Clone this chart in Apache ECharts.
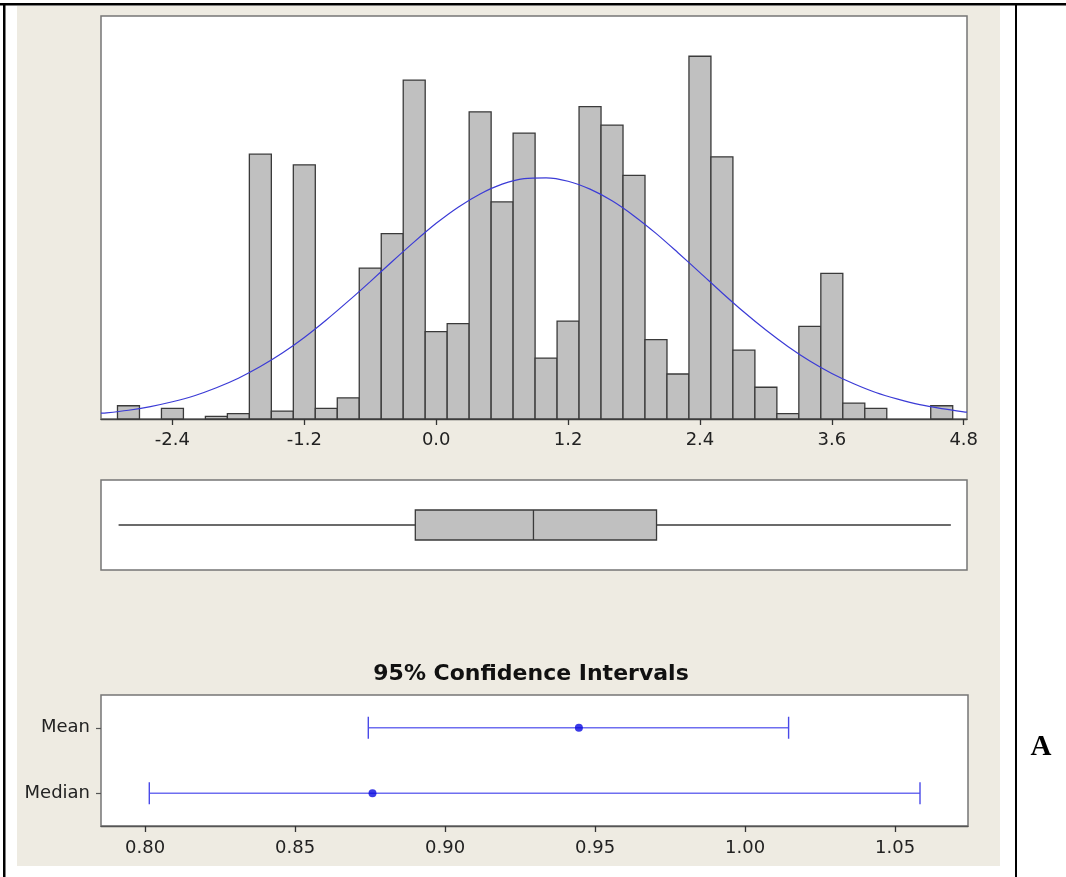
<!DOCTYPE html>
<html>
<head>
<meta charset="utf-8">
<script src="https://cdn.jsdelivr.net/npm/echarts@6/dist/echarts.min.js"></script>
<style>
html,body{margin:0;padding:0;background:#fff;}
#chart{width:1066px;height:877px;}
</style>
</head>
<body>
<div id="chart"></div>
<script>
// ---- Data ----
const binCenters = [-2.8,-2.6,-2.4,-2.2,-2.0,-1.8,-1.6,-1.4,-1.2,-1.0,-0.8,-0.6,-0.4,-0.2,0.0,0.2,0.4,0.6,0.8,1.0,1.2,1.4,1.6,1.8,2.0,2.2,2.4,2.6,2.8,3.0,3.2,3.4,3.6,3.8,4.0,4.2,4.4,4.6];
const binCounts  = [5,0,4,0,1,2,100,3,96,4,8,57,70,128,33,36,116,82,108,23,37,118,111,92,30,17,137,99,26,12,2,35,55,6,4,0,0,5];
const binWidth = 0.2;

// fitted normal curve
const curveX = [-3.05,-3.0,-2.8,-2.6,-2.4,-2.2,-2.0,-1.8,-1.6,-1.4,-1.2,-1.0,-0.8,-0.6,-0.4,-0.2,0.0,0.2,0.4,0.6,0.8,1.0,1.2,1.4,1.6,1.8,2.0,2.2,2.4,2.6,2.8,3.0,3.2,3.4,3.6,3.8,4.0,4.2,4.4,4.6,4.8,4.83];
const curveY = [2.2,2.3,3.3,4.7,6.5,8.8,11.8,15.4,19.8,24.9,30.8,37.4,44.5,51.9,59.5,66.9,73.9,80.0,85.0,88.7,90.8,91.1,89.8,86.8,82.4,76.7,70.1,62.8,55.3,47.7,40.4,33.6,27.4,21.9,17.2,13.3,10.0,7.5,5.4,3.9,2.7,2.6];

const histTicks = [-2.4,-1.2,0.0,1.2,2.4,3.6,4.8];

// boxplot: min, Q1, median, Q3, max
const boxStats = [-2.89,-0.19,0.885,2.005,4.683];

// 95% confidence intervals
const ciLabels = ['Median','Mean'];
const ciLow    = [0.8014,0.8744];
const ciEst    = [0.8758,0.9446];
const ciHigh   = [1.0583,1.0145];
const ciTicks  = [0.80,0.85,0.90,0.95,1.00,1.05];

// ---- Chart ----
const chart = echarts.init(document.getElementById('chart'), null, {renderer:'canvas'});
const FONT = 'DejaVu Sans';
const panelBorder = '#767676';

const histData = binCenters.map((c,i)=>[c, binCounts[i]]);
const curveData = curveX.map((x,i)=>[x, curveY[i]]);
const ciData = ciLabels.map((l,i)=>[i, ciLow[i], ciHigh[i]]);
const ciPts = ciLabels.map((l,i)=>[ciEst[i], i]);

const option = {
  animation:false,
  backgroundColor:'#ffffff',
  graphic:[
    {type:'rect', z:-10, shape:{x:17,y:6,width:983,height:860}, style:{fill:'#eeebe2'}},
    {type:'rect', z:100, shape:{x:0,y:3,width:1066,height:2.5}, style:{fill:'#000'}},
    {type:'rect', z:100, shape:{x:3,y:3,width:2.5,height:874}, style:{fill:'#000'}},
    {type:'rect', z:100, shape:{x:1015,y:3,width:2,height:874}, style:{fill:'#000'}},
    {type:'text', z:100, x:531, y:674, style:{text:'95% Confidence Intervals', font:'bold 22px "DejaVu Sans"', fill:'#111', textAlign:'center', textVerticalAlign:'middle'}},
    {type:'text', z:100, x:1041, y:748, style:{text:'A', font:'bold 29px "Liberation Serif"', fill:'#000', textAlign:'center', textVerticalAlign:'middle'}}
  ],
  grid:[
    {left:101, top:16, width:866, height:403, show:true, backgroundColor:'#fff', borderColor:panelBorder, borderWidth:1.5},
    {left:101, top:480, width:866, height:90, show:true, backgroundColor:'#fff', borderColor:panelBorder, borderWidth:1.5},
    {left:101, top:695, width:867, height:131, show:true, backgroundColor:'#fff', borderColor:panelBorder, borderWidth:1.5}
  ],
  xAxis:[
    {gridIndex:0, type:'value', min:-3.05, max:4.83, splitLine:{show:false},
     axisLine:{show:true, onZero:false, lineStyle:{color:'#444', width:1.3}},
     axisTick:{show:true, length:6, customValues:histTicks, lineStyle:{color:'#333', width:1.3}},
     axisLabel:{customValues:histTicks, margin:12, formatter:v=>v.toFixed(1), fontFamily:FONT, fontSize:18, color:'#222'}},
    {gridIndex:1, type:'value', min:-3.05, max:4.83, show:false},
    {gridIndex:2, type:'value', min:0.7853, max:1.0743, splitLine:{show:false},
     axisLine:{show:true, onZero:false, lineStyle:{color:'#555', width:1.3}},
     axisTick:{show:true, length:6, customValues:ciTicks, lineStyle:{color:'#333', width:1.3}},
     axisLabel:{customValues:ciTicks, margin:13, formatter:v=>v.toFixed(2), fontFamily:FONT, fontSize:18, color:'#222'}}
  ],
  yAxis:[
    {gridIndex:0, type:'value', min:0, max:152.2, show:false},
    {gridIndex:1, type:'value', min:0, max:1, show:false},
    {gridIndex:2, type:'category', data:ciLabels, splitLine:{show:false},
     axisLine:{show:false},
     axisTick:{show:true, alignWithLabel:true, length:5, lineStyle:{color:'#555', width:1.2}},
     axisLabel:{margin:11, fontFamily:FONT, fontSize:18, color:'#222'}}
  ],
  series:[
    {type:'custom', xAxisIndex:0, yAxisIndex:0, data:histData, encode:{x:0,y:1}, z:2,
     renderItem:function(params, api){
       const c = api.value(0), n = api.value(1);
       if(!n) return null;
       const p0 = api.coord([c - binWidth/2, 0]);
       const p1 = api.coord([c + binWidth/2, n]);
       return {type:'rect', shape:{x:p0[0], y:p1[1], width:p1[0]-p0[0], height:p0[1]-p1[1]},
               style:{fill:'#c0c0c0', stroke:'#3a3a3a', lineWidth:1.3}};
     }},
    {type:'line', xAxisIndex:0, yAxisIndex:0, data:curveData, smooth:0.3, showSymbol:false, symbol:'none', z:5,
     lineStyle:{color:'#3b3bd6', width:1.2}},
    {type:'custom', xAxisIndex:1, yAxisIndex:1, data:[boxStats], encode:{x:[0,1,2,3,4]}, z:3,
     renderItem:function(params, api){
       const mn=api.value(0), q1=api.value(1), md=api.value(2), q3=api.value(3), mx=api.value(4);
       const pMin=api.coord([mn,0.5]), pQ1=api.coord([q1,0.5]), pMd=api.coord([md,0.5]), pQ3=api.coord([q3,0.5]), pMax=api.coord([mx,0.5]);
       const cy = pMd[1], h = 30;
       const ls = {stroke:'#3a3a3a', lineWidth:1.3};
       return {type:'group', children:[
         {type:'line', shape:{x1:pMin[0], y1:cy, x2:pQ1[0], y2:cy}, style:ls},
         {type:'line', shape:{x1:pQ3[0], y1:cy, x2:pMax[0], y2:cy}, style:ls},
         {type:'rect', shape:{x:pQ1[0], y:cy-h/2, width:pQ3[0]-pQ1[0], height:h}, style:{fill:'#c0c0c0', stroke:'#3a3a3a', lineWidth:1.3}},
         {type:'line', shape:{x1:pMd[0], y1:cy-h/2, x2:pMd[0], y2:cy+h/2}, style:ls}
       ]};
     }},
    {type:'custom', xAxisIndex:2, yAxisIndex:2, data:ciData, encode:{y:0, x:[1,2]}, z:3,
     renderItem:function(params, api){
       const r = api.value(0), lo = api.value(1), hi = api.value(2);
       const a = api.coord([lo, r]), b = api.coord([hi, r]);
       const cap = 11;
       return {type:'group', children:[
         {type:'line', shape:{x1:a[0], y1:a[1], x2:b[0], y2:b[1]}, style:{stroke:'#6e6ef0', lineWidth:1.5}},
         {type:'line', shape:{x1:a[0], y1:a[1]-cap, x2:a[0], y2:a[1]+cap}, style:{stroke:'#4a4ae8', lineWidth:1.4}},
         {type:'line', shape:{x1:b[0], y1:b[1]-cap, x2:b[0], y2:b[1]+cap}, style:{stroke:'#4a4ae8', lineWidth:1.4}}
       ]};
     }},
    {type:'scatter', xAxisIndex:2, yAxisIndex:2, data:ciPts, symbol:'circle', symbolSize:8, z:6,
     itemStyle:{color:'#0a0ae0'}}
  ]
};
chart.setOption(option);
</script>
</body>
</html>
